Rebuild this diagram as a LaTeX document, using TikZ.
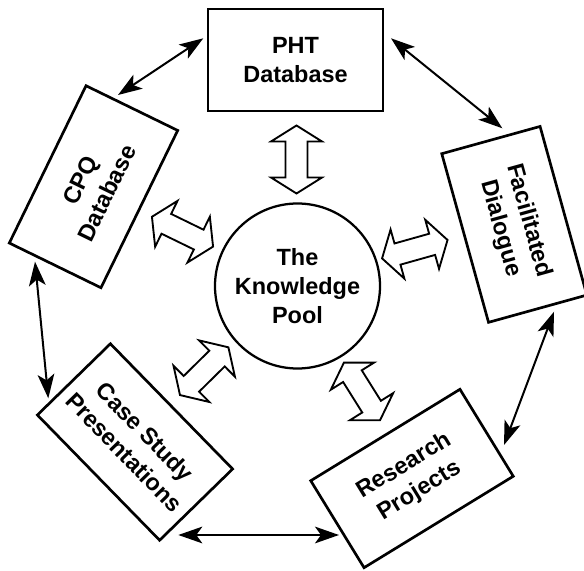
\documentclass[tikz,border=0pt]{standalone}
\usepackage{fontspec}
\setmainfont{Liberation Sans}
\usetikzlibrary{arrows.meta}
\begin{document}
\begin{tikzpicture}[x=0.75pt,y=0.75pt,
  label font/.style={font=\fontsize{17.6}{22}\selectfont\bfseries},
  panel/.style={draw, line width=2pt, minimum width=131.25pt, minimum height=76.5pt,
    align=center, inner sep=0pt, label font},
  pool/.style={circle, draw, line width=1.7pt, minimum size=123.75pt,
    align=center, inner sep=0pt, label font},
  link/.style={line width=1.5pt,
    {Stealth[length=18pt,width=12.5pt,inset=4.5pt]}-{Stealth[length=18pt,width=12.5pt,inset=4.5pt]}},
  flowarrow/.pic={
    \draw[line width=1.4pt, fill=white, line join=miter]
      (-34,0) -- (-18,25.5) -- (-18,11) -- (18,11) -- (18,25.5) -- (34,0)
      -- (18,-25.5) -- (18,-11) -- (-18,-11) -- (-18,-25.5) -- cycle;
  }]
\useasboundingbox (0,0) rectangle (584,570);

% central pool
\node[pool] (pool) at (297.5,284) {The\\Knowledge\\Pool};

% surrounding activities
\node[panel] (pht)   at (295.5,510)   {PHT\\Database};
\node[panel, rotate=64]    (cpq)   at (93.5,383.25) {CPQ\\Database};
\node[panel, rotate=-74.5] (dial)  at (514.3,345.6) {Facilitated\\Dialogue};
\node[panel, rotate=31.5]  (res)   at (412,91.5)    {Research\\Projects};
\node[panel, rotate=-45.7] (case)  at (135,128)     {Case Study\\Presentations};

% two-way flows between the pool and each activity
\pic (f-pht)  [rotate=90]    at (296.5,410.5) {flowarrow};
\pic (f-cpq)  [rotate=-26]   at (182.5,338.3) {flowarrow};
\pic (f-dial) [rotate=15.7]  at (414.8,320.8) {flowarrow};
\pic (f-res)  [rotate=-57.9] at (362,178.6)   {flowarrow};
\pic (f-case) [rotate=44.6]  at (204.2,198.8) {flowarrow};

% end points of the links around the ring
\coordinate (pht-w)  at (203.3,531.7);
\coordinate (cpq-n)  at (118,475);
\coordinate (pht-e)  at (391,531.7);
\coordinate (dial-n) at (502.3,441.7);
\coordinate (dial-s) at (554,258.3);
\coordinate (res-n)  at (504,125);
\coordinate (res-w)  at (339,35);
\coordinate (case-e) at (178.3,35);
\coordinate (case-n) at (48.3,171.7);
\coordinate (cpq-s)  at (35,308.3);

\draw[link] (cpq-n) -- (pht-w);
\draw[link] (pht-e) -- (dial-n);
\draw[link] (dial-s) -- (res-n);
\draw[link] (res-w) -- (case-e);
\draw[link] (cpq-s) -- (case-n);
\end{tikzpicture}
\end{document}
